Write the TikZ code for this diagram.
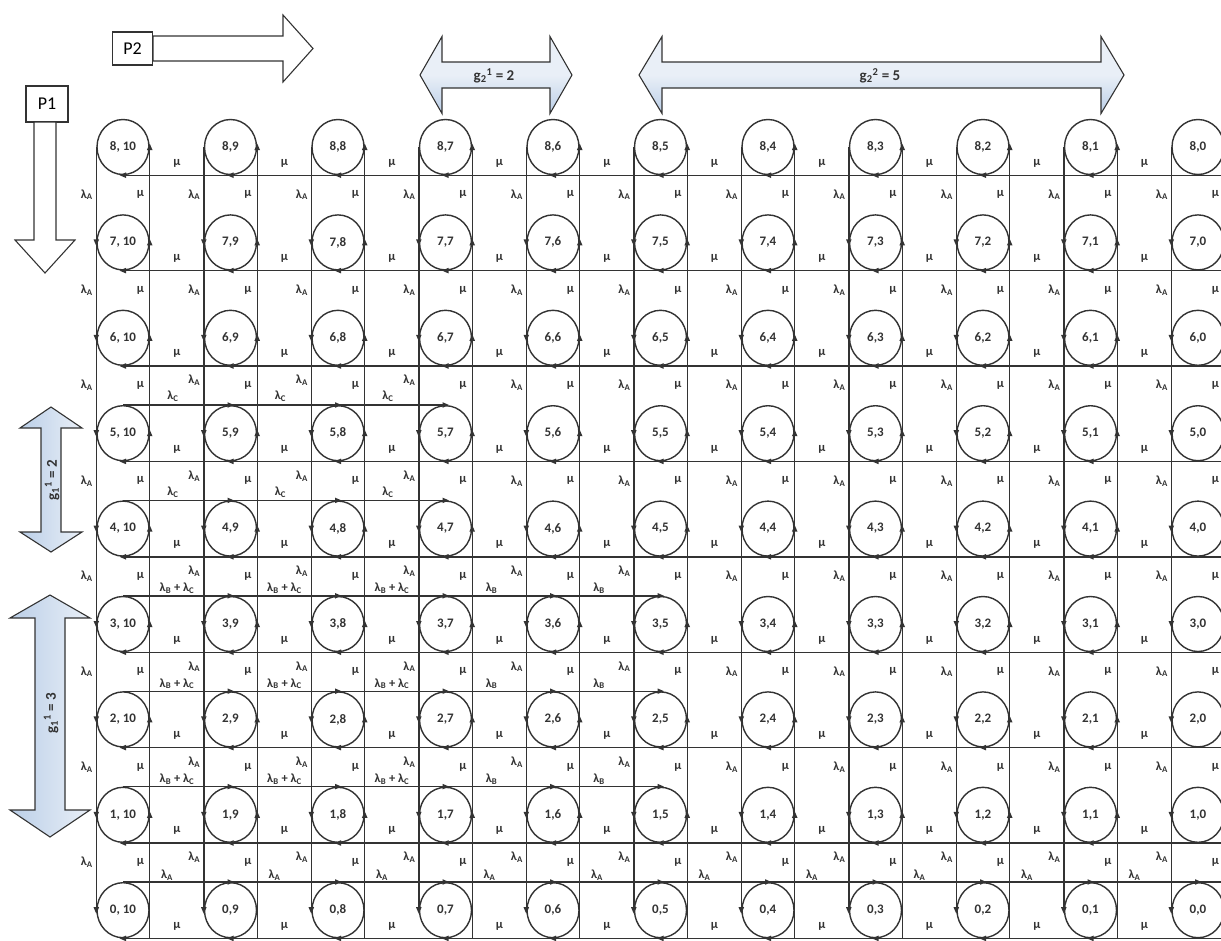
\documentclass[tikz,border=0pt]{standalone}
\usepackage{fontspec}
\setmainfont{Carlito}
\usetikzlibrary{shapes.geometric}
\definecolor{ink}{HTML}{333333}
\definecolor{blueA}{HTML}{BBCFE8}
\definecolor{blueB}{HTML}{E9EFF7}
\newcommand\arrD[1]{\fill[ink] (#1) ++(0,3.5) -- ++(-2.8,-6.5) -- ++(5.6,0) -- cycle;}
\newcommand\arrU[1]{\fill[ink] (#1) ++(0,-3.5) -- ++(-2.8,6.5) -- ++(5.6,0) -- cycle;}
\newcommand\arrL[1]{\fill[ink] (#1) ++(-3.5,0) -- ++(6.5,-2.8) -- ++(0,5.6) -- cycle;}
\newcommand\arrR[1]{\fill[ink] (#1) ++(3.5,0) -- ++(-6.5,-2.8) -- ++(0,5.6) -- cycle;}
\begin{document}
\begin{tikzpicture}[x=1pt,y=-1pt,
  state/.style={ellipse, draw=ink, line width=1.4pt, minimum width=52pt, minimum height=55pt,
    inner sep=0pt, fill=white, font=\fontsize{13}{14}\selectfont\bfseries, text=ink},
  conn/.style={draw=ink, line width=1.4pt},
  lab/.style={font=\fontsize{12.5}{13}\selectfont\bfseries, inner sep=0pt, text=ink},
  pbox/.style={draw=ink, line width=1.2pt, fill=white, minimum width=40pt, minimum height=33pt,
    inner sep=0pt, font=\fontsize{18}{20}\selectfont},
  bigarrow/.style={draw=ink, line width=1.1pt, fill=white},
  hblue/.style={draw=ink, line width=1.1pt, top color=blueB, bottom color=blueA, middle color=blueB},
  vblue/.style={draw=ink, line width=1.1pt, left color=blueA, right color=blueB},
  gtext/.style={font=\fontsize{15}{16}\selectfont\bfseries, inner sep=0pt, text=ink}
]
\useasboundingbox (0,0) rectangle (1221,940);
\coordinate (edge) at (1221,0);

% states
\foreach \r in {8,...,0} {
  \foreach \c in {10,...,0} {
    \pgfmathsetmacro\xx{123+(10-\c)*107.5}
    \pgfmathsetmacro\yy{147+(8-\r)*95.4}
    \ifnum\c=10
      \node[state] (s-\r-\c) at (\xx,\yy) {\r, 10};
    \else
      \node[state] (s-\r-\c) at (\xx,\yy) {\r,\c};
    \fi
  }
}

% vertical connectors
\foreach \c in {10,...,0} {
  \draw[conn] (s-8-\c.west) -- (s-0-\c.west);
  \draw[conn] (s-8-\c.east) -- (s-0-\c.east |- s-0-\c.south);
}
% bottom horizontal connectors
\foreach \r in {8,...,0} {
  \draw[conn] (s-\r-10.south) -- (s-\r-0.south) -- (s-\r-0.south -| edge);
}
% top horizontal connectors
\foreach \r in {5,4} { \draw[conn] (s-\r-10.north) -- (s-\r-7.north); }
\foreach \r in {3,2,1} { \draw[conn] (s-\r-10.north) -- (s-\r-5.north); }
\draw[conn] (s-0-10.north) -- (s-0-0.north) -- (s-0-0.north -| edge);

% arrowheads on states
\foreach \c in {10,...,0} {
  \foreach \r in {7,...,0} { \arrD{s-\r-\c.west} }
  \foreach \r in {8,...,1} { \arrU{s-\r-\c.east} }
}
\foreach \c in {10,...,1} {
  \foreach \r in {8,...,0} { \arrL{s-\r-\c.south} }
}
\foreach \c in {9,8,7} { \foreach \r in {5,4} { \arrR{s-\r-\c.north} } }
\foreach \c in {9,...,5} { \foreach \r in {3,2,1} { \arrR{s-\r-\c.north} } }
\foreach \c in {9,...,0} { \arrR{s-0-\c.north} }

% vertical-gap labels
\foreach \r in {7,...,0} {
  \foreach \c in {10,...,0} {
    \pgfmathsetmacro\xx{123+(10-\c)*107.5}
    \pgfmathsetmacro\my{147+(8-\r-0.5)*95.4}
    \pgfmathsetmacro\off{((\r>=4 && \r<=5 && \c>=7 && \c<=9) || (\r>=1 && \r<=3 && \c>=5 && \c<=9) || (\r==0 && \c<=9)) ? -5 : 0}
    \node[lab, anchor=east] (mu-\r-\c) at (\xx+21,\my) {μ};
    \node[lab, anchor=east] (la-\r-\c) at (\xx-30,\my+\off) {λ\textsubscript{A}};
  }
}
% lower-left labels on top connectors
\foreach \r in {5,4} {
  \foreach \c in {9,8,7} {
    \pgfmathsetmacro\xx{123+(9-\c)*107.5+54}
    \pgfmathsetmacro\my{147+(8-\r-0.5)*95.4+11}
    \node[lab] (lc-\r-\c) at (\xx-4,\my) {λ\textsubscript{C}};
  }
}
\foreach \r in {3,2,1} {
  \foreach \c in {9,8,7} {
    \pgfmathsetmacro\xx{123+(9-\c)*107.5+54}
    \pgfmathsetmacro\my{147+(8-\r-0.5)*95.4+12}
    \node[lab] (lbc-\r-\c) at (\xx,\my) {λ\textsubscript{B} + λ\textsubscript{C}};
  }
  \foreach \c in {6,5} {
    \pgfmathsetmacro\xx{123+(9-\c)*107.5+54}
    \pgfmathsetmacro\my{147+(8-\r-0.5)*95.4+12}
    \node[lab] (lb-\r-\c) at (\xx-8,\my) {λ\textsubscript{B}};
  }
}
\foreach \c in {9,...,0} {
  \pgfmathsetmacro\xx{123+(9-\c)*107.5+54}
  \pgfmathsetmacro\my{147+(8-0.5)*95.4+13}
  \node[lab] (lo-0-\c) at (\xx-10,\my) {λ\textsubscript{A}};
}
% horizontal mu labels
\foreach \r in {8,...,0} {
  \foreach \c in {9,...,0} {
    \pgfmathsetmacro\xx{123+(9-\c)*107.5+54}
    \pgfmathsetmacro\yy{147+(8-\r)*95.4+16}
    \node[lab] (mh-\r-\c) at (\xx,\yy) {μ};
  }
}

% P2 and P1 with arrows
\node[pbox] (p2) at (132.5,48.5) {P2};
\draw[bigarrow] (p2.east |- 0,36) -- (283,36) -- (283,15) -- (313,48.5) -- (283,82) -- (283,61) -- (p2.east |- 0,61) -- cycle;
\node[pbox, minimum width=42pt, minimum height=36pt] (p1) at (47,104) {P1};
\draw[bigarrow] (34,122) -- (34,240) -- (15,240) -- (45,273) -- (75,240) -- (56,240) -- (56,122) -- cycle;

% g2 double arrows
\draw[hblue] (420,75) -- (442,36.5) -- (442,62) -- (550,62) -- (550,36.5) -- (572,75) -- (550,113.5) -- (550,88) -- (442,88) -- (442,113.5) -- cycle;
\node[gtext] (g21) at (494,76) {g\textsubscript{2}\textsuperscript{1} = 2};
\draw[hblue] (639,75) -- (662,36.5) -- (662,62) -- (1101,62) -- (1101,36.5) -- (1124,75) -- (1101,113.5) -- (1101,88) -- (662,88) -- (662,113.5) -- cycle;
\node[gtext] (g22) at (880,76) {g\textsubscript{2}\textsuperscript{2} = 5};

% g1 double arrows
\draw[vblue] (51,407) -- (82,428) -- (61,428) -- (61,532) -- (82,532) -- (51,552) -- (20,532) -- (41,532) -- (41,428) -- (20,428) -- cycle;
\node[gtext, rotate=90] (g12) at (52,480) {g\textsubscript{1}\textsuperscript{1} = 2};
\draw[vblue] (50,595) -- (90,618) -- (65,618) -- (65,810) -- (90,810) -- (50,837) -- (10,810) -- (35,810) -- (35,618) -- (10,618) -- cycle;
\node[gtext, rotate=90] (g11) at (51,713) {g\textsubscript{1}\textsuperscript{1} = 3};
\end{tikzpicture}
\end{document}
